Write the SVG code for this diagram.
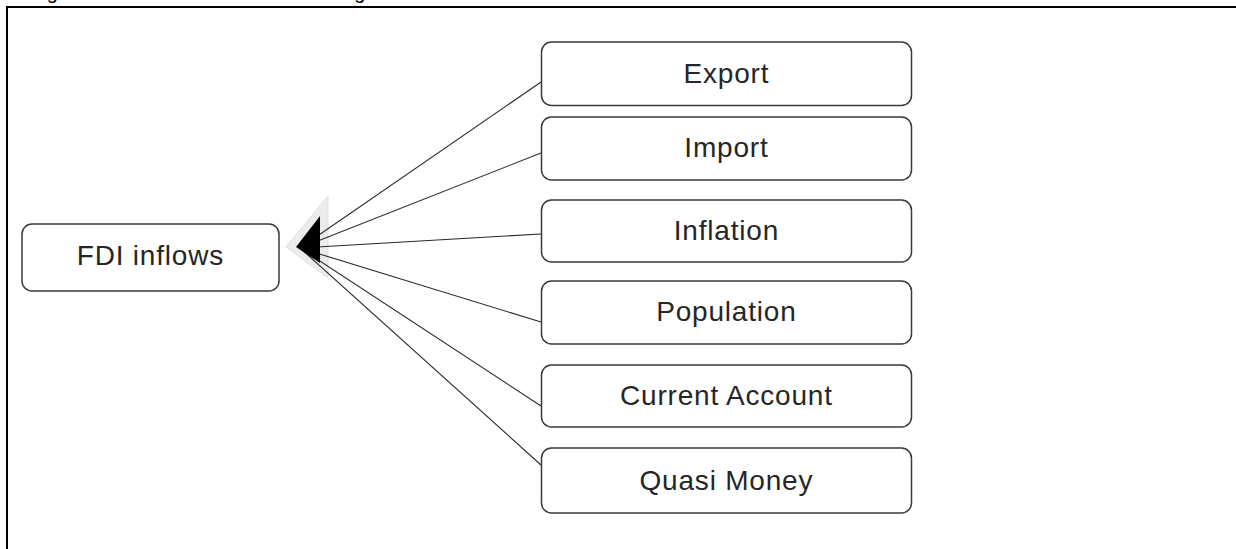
<svg xmlns="http://www.w3.org/2000/svg" width="1236" height="549" viewBox="0 0 1236 549">
<style>
.box{fill:#ffffff;stroke:#3a3a3a;stroke-width:1.5}
.lbl{font-family:"Liberation Sans",Arial,sans-serif;font-size:28px;fill:#262626;text-anchor:middle;letter-spacing:0.8px}
.cap{font-family:"Liberation Sans",Arial,sans-serif;font-size:20px;fill:#000}
.conn line{stroke:#2a2a2a;stroke-width:1.1}
</style>
<rect x="0" y="0" width="1236" height="549" fill="#ffffff"/>
<text class="cap" x="30" y="-1.5">Figure 1: Theoretical Framework Diagram</text>
<g id="frame">
<line x1="7" y1="7" x2="1236" y2="7" stroke="#000" stroke-width="2"/>
<line x1="7" y1="6" x2="7" y2="549" stroke="#000" stroke-width="2"/>
</g>
<polygon id="halo" points="328,196 286,247 328,278" fill="#ececec" stroke="#e0e0e0" stroke-width="1"/>
<g id="connectors" class="conn">
<line x1="300" y1="248" x2="541" y2="82"/>
<line x1="300" y1="248" x2="541" y2="153"/>
<line x1="300" y1="248" x2="541" y2="234"/>
<line x1="300" y1="248" x2="541" y2="322"/>
<line x1="300" y1="248" x2="541" y2="406"/>
<line x1="300" y1="248" x2="541" y2="465"/>
</g>
<polygon id="arrowhead" points="320,216 296,247 320,263" fill="#000"/>
<g id="node-fdi"><rect class="box" x="22" y="224" width="257" height="67" rx="10"/><text class="lbl" x="150.4" y="265">FDI inflows</text></g>
<g id="node-export"><rect class="box" x="541.5" y="42" width="370" height="63.5" rx="10"/><text class="lbl" x="726.4" y="83">Export</text></g>
<g id="node-import"><rect class="box" x="541.5" y="117" width="370" height="63" rx="10"/><text class="lbl" x="726.4" y="157">Import</text></g>
<g id="node-inflation"><rect class="box" x="541.5" y="200" width="370" height="62" rx="10"/><text class="lbl" x="726.4" y="240">Inflation</text></g>
<g id="node-population"><rect class="box" x="541.5" y="281" width="370" height="63" rx="10"/><text class="lbl" x="726.4" y="321">Population</text></g>
<g id="node-current"><rect class="box" x="541.5" y="365" width="370" height="62" rx="10"/><text class="lbl" x="726.4" y="405">Current Account</text></g>
<g id="node-quasi"><rect class="box" x="541.5" y="448" width="370" height="65" rx="10"/><text class="lbl" x="726.4" y="490">Quasi Money</text></g>
</svg>
